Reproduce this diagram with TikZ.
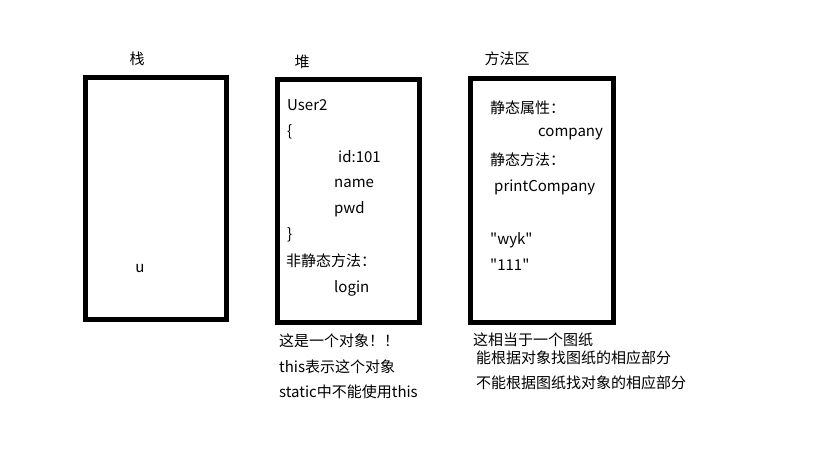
\documentclass[tikz,border=0pt]{standalone}
\usepackage{fontspec}
\newfontfamily\cjk{Noto Sans CJK SC}
\usetikzlibrary{positioning}

\begin{document}
\begin{tikzpicture}[x = 1pt, y = -1pt, font = \cjk\fontsize{15}{17}\selectfont]
\tikzstyle{areaStyle}=[draw, line width = 5pt, anchor = north west, inner sep = 0pt]
\tikzstyle{titleStyle}=[inner sep = 0pt]
\tikzstyle{textStyle}=[anchor = west, inner sep = 0pt]
\useasboundingbox (0, 0) rectangle (819, 460);
% the three areas
\node[areaStyle, minimum width = 141pt, minimum height = 242pt] (stack) at (83, 75) {};
\node[areaStyle, minimum width = 142pt, minimum height = 243pt] (heap) at (275, 77) {};
\node[areaStyle, minimum width = 143pt, minimum height = 244pt] (method) at (468, 76) {};
\node[titleStyle] (stackTitle) at (137, 59) {栈};
\node[titleStyle] (heapTitle) at (302, 62) {堆};
\node[titleStyle] (methodTitle) at (507, 59) {方法区};
% stack
\node[titleStyle] (u) at (140, 269) {u};
% heap
\node[textStyle] (h0) at (287, 105) {User2};
\node[textStyle] (h1) at (287, 132) {\{};
\node[textStyle] (h2) at (338, 157) {id:101};
\node[textStyle] (h3) at (334, 183) {name};
\node[textStyle] (h4) at (334, 209) {pwd};
\node[textStyle] (h5) at (287, 235) {\}};
\node[textStyle] (h6) at (286, 261) {非静态方法：};
\node[textStyle] (h7) at (334, 288) {login};
% method area
\node[textStyle] (m0) at (490, 108) {静态属性：};
\node[textStyle] (m1) at (538, 134) {company};
\node[textStyle] (m2) at (490, 160) {静态方法：};
\node[textStyle] (m3) at (494, 187) {printCompany};
\node[textStyle] (m4) at (490, 240) {"wyk"};
\node[textStyle] (m5) at (490, 265) {"111"};
% notes
\node[textStyle] (n0) at (279, 341) {这是一个对象！！};
\node[textStyle] (n1) at (279, 367) {this表示这个对象};
\node[textStyle] (n2) at (279, 392) {static中不能使用this};
\node[textStyle] (n3) at (473, 340) {这相当于一个图纸};
\node[textStyle] (n4) at (476, 358) {能根据对象找图纸的相应部分};
\node[textStyle] (n5) at (476, 383) {不能根据图纸找对象的相应部分};
\end{tikzpicture}
\end{document}
